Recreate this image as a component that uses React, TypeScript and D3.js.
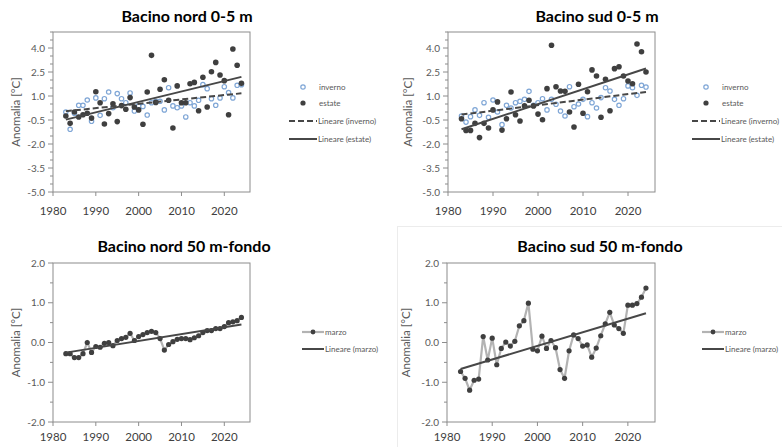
import React, { useEffect, useRef } from 'react';
import * as d3 from 'd3';

const years = [
  1983, 1984, 1985, 1986, 1987, 1988, 1989, 1990, 1991, 1992, 1993, 1994, 1995, 1996,
  1997, 1998, 1999, 2000, 2001, 2002, 2003, 2004, 2005, 2006, 2007, 2008, 2009, 2010,
  2011, 2012, 2013, 2014, 2015, 2016, 2017, 2018, 2019, 2020, 2021, 2022, 2023, 2024,
];

// Bacino nord 0-5 m
const nordInverno = [
  0.0, -1.08, -0.08, 0.42, 0.42, 0.75, -0.58, 0.88, -0.21, 0.83, 1.25, 0.27, 1.15, 0.83,
  0.58, 1.19, 0.06, 0.38, 0.35, -0.19, 0.58, 0.67, 0.67, 0.13, 1.52, 0.38, 0.27, 0.38,
  -0.31, 0.58, 0.38, 0.73, 1.71, 1.46, 0.83, 0.42, 0.88, 1.58, 1.21, 0.88, 1.67, 1.71,
];
const nordEstate = [
  -0.25, -0.71, 0.0, -0.31, -0.17, -0.08, -0.38, 1.27, 0.58, -0.75, -0.1, 0.52, -0.6, 0.4,
  0.17, 0.9, 0.31, 0.13, -0.77, 1.25, 3.54, 0.6, 1.42, 2.02, 0.73, -1.0, 1.63, 0.58,
  0.58, 1.77, 1.85, 0.08, 2.17, 0.31, 2.52, 3.1, 2.31, 1.96, -0.17, 3.94, 2.92, 1.79,
];

// Bacino sud 0-5 m
const sudInverno = [
  -0.25, -0.63, -0.29, 0.13, -0.21, 0.58, -0.33, 0.75, 0.0, -0.79, 0.42, 0.25, 0.58, 0.67,
  0.79, 1.29, 0.42, 0.58, 0.83, 0.13, 0.79, 0.48, 0.06, -0.25, 1.58, 0.33, 0.5, 0.79,
  -0.29, 0.58, 0.25, 0.9, 1.52, 1.31, 0.79, 0.42, 0.83, 1.63, 1.52, 1.04, 1.67, 1.56,
];
const sudEstate = [
  -0.42, -1.15, -1.15, -0.71, -1.6, -0.71, -1.0, 0.13, 0.63, -1.13, -0.42, 1.25, -0.17, -0.56,
  0.38, 0.73, 0.38, -0.13, -0.48, 1.46, 4.17, 1.58, 1.31, 1.29, 0.0, -0.94, 1.73, -0.08,
  1.27, 2.63, 2.25, -0.33, 2.04, 0.08, 2.71, 2.83, 2.25, 1.94, 1.77, 4.25, 3.77, 2.5,
];

// 50 m-fondo, marzo
const nord50 = [
  -0.28, -0.28, -0.38, -0.38, -0.28, 0.0, -0.25, -0.1, -0.12, -0.02, 0.0, -0.08, 0.05, 0.1,
  0.13, 0.23, 0.05, 0.15, 0.2, 0.25, 0.28, 0.25, 0.1, -0.19, -0.05, 0.02, 0.08, 0.1,
  0.1, 0.07, 0.12, 0.17, 0.25, 0.3, 0.3, 0.35, 0.35, 0.4, 0.5, 0.52, 0.55, 0.63,
];
const sud50 = [
  -0.73, -0.9, -1.2, -0.95, -0.92, 0.15, -0.44, 0.11, -0.56, -0.15, 0.01, -0.09, 0.03, 0.42,
  0.55, 0.99, -0.17, -0.21, 0.16, -0.15, 0.05, -0.13, -0.68, -0.9, -0.21, 0.19, 0.1, -0.09,
  -0.06, -0.37, -0.14, 0.17, 0.47, 0.76, 0.44, 0.35, 0.23, 0.94, 0.94, 0.98, 1.14, 1.37,
];

const xTicks = [1980, 1990, 2000, 2010, 2020];
const yTicksTop = [-5.0, -3.5, -2.0, -0.5, 1.0, 2.5, 4.0];
const yTicksBottom = [-2.0, -1.0, 0.0, 1.0, 2.0];

const FONT = 'Lato, "Liberation Sans", sans-serif';
const TEXT = '#595959';
const AXIS = '#8c8c8c';
const DARK = '#3f3f3f';
const BLUE = '#7fa6d6';

function linearFit(xs: number[], ys: number[]) {
  const mx = d3.mean(xs)!;
  const my = d3.mean(ys)!;
  let num = 0;
  let den = 0;
  xs.forEach((x, i) => {
    num += (x - mx) * (ys[i] - my);
    den += (x - mx) * (x - mx);
  });
  const b = num / den;
  return (x: number) => my + b * (x - mx);
}

type Panel = {
  title: string;
  titleX: number;
  titleY: number;
  left: number;
  right: number;
  top: number;
  bottom: number;
  yDomain: [number, number];
  yTicks: number[];
  labelX: number;
  xLabelY: number;
  legendX: number;
  legendY: number;
};

function drawFrame(g: d3.Selection<SVGGElement, unknown, null, undefined>, p: Panel) {
  const x = d3.scaleLinear().domain([1980, 2026]).range([p.left, p.right]);
  const y = d3.scaleLinear().domain(p.yDomain).range([p.bottom, p.top]);

  g.append('text')
    .attr('x', p.titleX)
    .attr('y', p.titleY)
    .attr('text-anchor', 'middle')
    .attr('font-family', FONT)
    .attr('font-weight', 'bold')
    .attr('font-size', 16)
    .attr('fill', '#000')
    .text(p.title);

  g.append('rect')
    .attr('x', p.left)
    .attr('y', p.top)
    .attr('width', p.right - p.left)
    .attr('height', p.bottom - p.top)
    .attr('fill', 'none')
    .attr('stroke', AXIS)
    .attr('stroke-width', 1);

  // minor y ticks every 0.5
  const minor = d3.range(p.yDomain[0], p.yDomain[1] + 0.001, 0.5)
    .filter(v => !p.yTicks.some(t => Math.abs(t - v) < 1e-6));
  minor.forEach(v => {
    g.append('line')
      .attr('x1', p.left - 3).attr('x2', p.left)
      .attr('y1', y(v)).attr('y2', y(v))
      .attr('stroke', AXIS);
  });

  p.yTicks.forEach(v => {
    g.append('line')
      .attr('x1', p.left - 5).attr('x2', p.left)
      .attr('y1', y(v)).attr('y2', y(v))
      .attr('stroke', AXIS);
    g.append('text')
      .attr('x', p.left - 8)
      .attr('y', y(v))
      .attr('dy', '0.35em')
      .attr('text-anchor', 'end')
      .attr('font-family', FONT)
      .attr('font-size', 10)
      .attr('fill', TEXT)
      .text(v.toFixed(1));
  });

  xTicks.forEach(t => {
    g.append('line')
      .attr('x1', x(t)).attr('x2', x(t))
      .attr('y1', p.bottom).attr('y2', p.bottom + 4)
      .attr('stroke', AXIS);
    g.append('text')
      .attr('x', x(t))
      .attr('y', p.xLabelY)
      .attr('text-anchor', 'middle')
      .attr('font-family', FONT)
      .attr('font-size', 11.5)
      .attr('fill', '#404040')
      .text(t);
  });

  g.append('text')
    .attr('transform', `translate(${p.labelX},${(p.top + p.bottom) / 2}) rotate(-90)`)
    .attr('text-anchor', 'middle')
    .attr('font-family', FONT)
    .attr('font-size', 11.5)
    .attr('fill', TEXT)
    .text('Anomalia [°C]');

  return { x, y };
}

function drawScatterPanel(svg: SVGSVGElement, p: Panel, inverno: number[], estate: number[]) {
  const g = d3.select(svg).append('g');
  const { x, y } = drawFrame(g, p);

  const fitI = linearFit(years, inverno);
  const fitE = linearFit(years, estate);
  const x0 = years[0];
  const x1 = years[years.length - 1];

  g.selectAll('circle.inv')
    .data(years)
    .join('circle')
    .attr('class', 'inv')
    .attr('cx', d => x(d))
    .attr('cy', (_, i) => y(inverno[i]))
    .attr('r', 2.2)
    .attr('fill', '#fff')
    .attr('stroke', BLUE)
    .attr('stroke-width', 1.2);

  g.selectAll('circle.est')
    .data(years)
    .join('circle')
    .attr('class', 'est')
    .attr('cx', d => x(d))
    .attr('cy', (_, i) => y(estate[i]))
    .attr('r', 2.8)
    .attr('fill', DARK);

  g.append('line')
    .attr('x1', x(x0)).attr('y1', y(fitI(x0)))
    .attr('x2', x(x1)).attr('y2', y(fitI(x1)))
    .attr('stroke', '#474747')
    .attr('stroke-width', 2)
    .attr('stroke-dasharray', '6,3');

  g.append('line')
    .attr('x1', x(x0)).attr('y1', y(fitE(x0)))
    .attr('x2', x(x1)).attr('y2', y(fitE(x1)))
    .attr('stroke', '#474747')
    .attr('stroke-width', 2);

  // legend
  const lx = p.legendX;
  const ly = p.legendY;
  const lg = g.append('g').attr('font-family', FONT).attr('font-size', 8).attr('fill', TEXT);
  lg.append('circle').attr('cx', lx + 14).attr('cy', ly).attr('r', 2.2)
    .attr('fill', '#fff').attr('stroke', BLUE).attr('stroke-width', 1.2);
  lg.append('text').attr('x', lx + 30).attr('y', ly).attr('dy', '0.35em').text('inverno');
  lg.append('circle').attr('cx', lx + 14).attr('cy', ly + 16).attr('r', 2.6).attr('fill', DARK);
  lg.append('text').attr('x', lx + 30).attr('y', ly + 16).attr('dy', '0.35em').text('estate');
  lg.append('line').attr('x1', lx).attr('x2', lx + 28).attr('y1', ly + 34).attr('y2', ly + 34)
    .attr('stroke', '#474747').attr('stroke-width', 2).attr('stroke-dasharray', '6,3');
  lg.append('text').attr('x', lx + 29).attr('y', ly + 34).attr('dy', '0.35em').text('Lineare (inverno)');
  lg.append('line').attr('x1', lx).attr('x2', lx + 28).attr('y1', ly + 52).attr('y2', ly + 52)
    .attr('stroke', '#474747').attr('stroke-width', 2);
  lg.append('text').attr('x', lx + 29).attr('y', ly + 52).attr('dy', '0.35em').text('Lineare (estate)');
}

function drawLinePanel(svg: SVGSVGElement, p: Panel, values: number[]) {
  const g = d3.select(svg).append('g');
  const { x, y } = drawFrame(g, p);

  const fit = linearFit(years, values);
  const x0 = years[0];
  const x1 = years[years.length - 1];

  const line = d3.line<number>()
    .x(d => x(d))
    .y((_, i) => y(values[i]));

  g.append('path')
    .datum(years)
    .attr('d', line)
    .attr('fill', 'none')
    .attr('stroke', '#b3b3b3')
    .attr('stroke-width', 2.2);

  g.selectAll('circle.pt')
    .data(years)
    .join('circle')
    .attr('class', 'pt')
    .attr('cx', d => x(d))
    .attr('cy', (_, i) => y(values[i]))
    .attr('r', 2.6)
    .attr('fill', DARK);

  g.append('line')
    .attr('x1', x(x0)).attr('y1', y(fit(x0)))
    .attr('x2', x(x1)).attr('y2', y(fit(x1)))
    .attr('stroke', '#474747')
    .attr('stroke-width', 2);

  const lx = p.legendX;
  const ly = p.legendY;
  const lg = g.append('g').attr('font-family', FONT).attr('font-size', 8).attr('fill', TEXT);
  lg.append('line').attr('x1', lx).attr('x2', lx + 22).attr('y1', ly).attr('y2', ly)
    .attr('stroke', '#b3b3b3').attr('stroke-width', 2.2);
  lg.append('circle').attr('cx', lx + 11).attr('cy', ly).attr('r', 2.4).attr('fill', DARK);
  lg.append('text').attr('x', lx + 23).attr('y', ly).attr('dy', '0.35em').text('marzo');
  lg.append('line').attr('x1', lx).attr('x2', lx + 22).attr('y1', ly + 17).attr('y2', ly + 17)
    .attr('stroke', '#474747').attr('stroke-width', 2);
  lg.append('text').attr('x', lx + 23).attr('y', ly + 17).attr('dy', '0.35em').text('Lineare (marzo)');
}

const panels: Panel[] = [
  { title: 'Bacino nord 0-5 m', titleX: 187, titleY: 22, left: 53, right: 250, top: 32, bottom: 192,
    yDomain: [-5, 5], yTicks: yTicksTop, labelX: 20, xLabelY: 215, legendX: 289, legendY: 87 },
  { title: 'Bacino sud 0-5 m', titleX: 597, titleY: 22, left: 448, right: 655, top: 32, bottom: 192,
    yDomain: [-5, 5], yTicks: yTicksTop, labelX: 412, xLabelY: 215, legendX: 692, legendY: 87 },
  { title: 'Bacino nord 50 m-fondo', titleX: 184, titleY: 252, left: 53, right: 250, top: 263, bottom: 422,
    yDomain: [-2, 2], yTicks: yTicksBottom, labelX: 20, xLabelY: 441, legendX: 302, legendY: 332 },
  { title: 'Bacino sud 50 m-fondo', titleX: 600, titleY: 252, left: 447, right: 655, top: 263, bottom: 422,
    yDomain: [-2, 2], yTicks: yTicksBottom, labelX: 410, xLabelY: 441, legendX: 702, legendY: 332 },
];

export default function App() {
  const svgRef = useRef<SVGSVGElement>(null);

  useEffect(() => {
    if (!svgRef.current) return;
    const svg = svgRef.current;
    d3.select(svg).selectAll('*').remove();

    // faint chart-area border
    d3.select(svg).append('rect')
      .attr('x', 397.5).attr('y', 226.5).attr('width', 390).attr('height', 230)
      .attr('fill', 'none').attr('stroke', '#ececec');

    drawScatterPanel(svg, panels[0], nordInverno, nordEstate);
    drawScatterPanel(svg, panels[1], sudInverno, sudEstate);
    drawLinePanel(svg, panels[2], nord50);
    drawLinePanel(svg, panels[3], sud50);
  }, []);

  return (
    <svg
      ref={svgRef}
      width={782}
      height={447}
      style={{ position: 'absolute', left: 0, top: 0, background: '#fff' }}
    />
  );
}
